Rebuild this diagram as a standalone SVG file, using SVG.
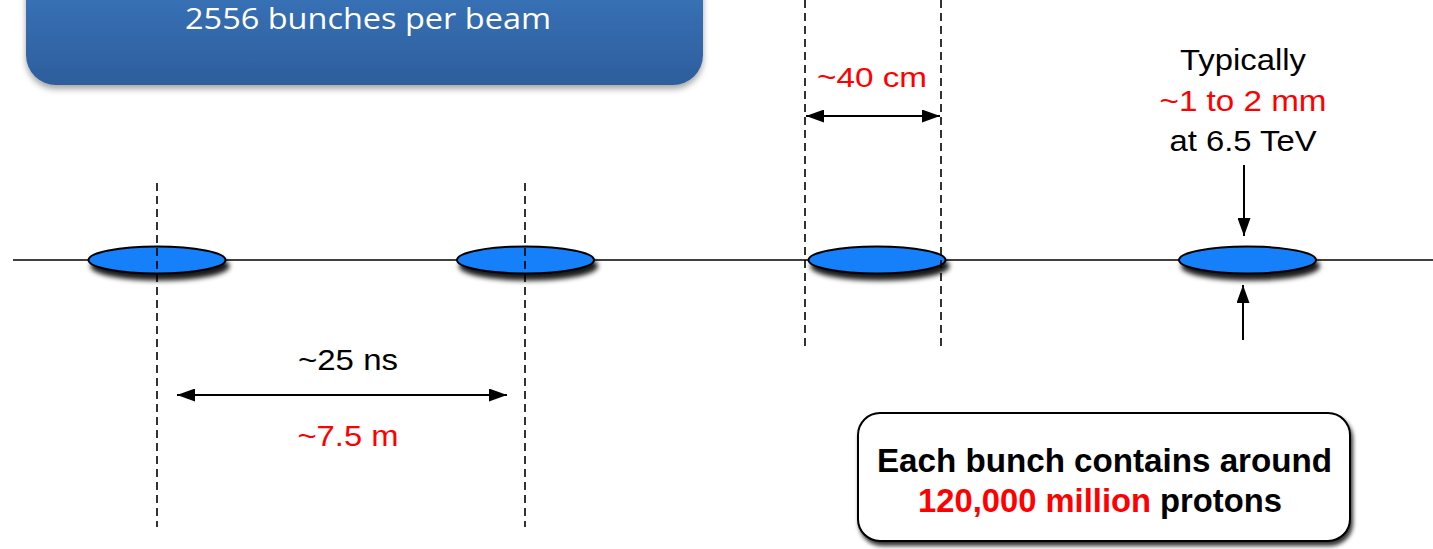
<svg xmlns="http://www.w3.org/2000/svg" width="1433" height="549" viewBox="0 0 1433 549">
<defs>
<linearGradient id="blueGrad" x1="0" y1="0" x2="0" y2="1">
<stop offset="0" stop-color="#3C78C0"/>
<stop offset="1" stop-color="#2D5E9C"/>
</linearGradient>
<filter id="boxShadow" x="-10%" y="-20%" width="120%" height="150%">
<feDropShadow dx="0" dy="4" stdDeviation="3" flood-color="#000" flood-opacity="0.35"/>
</filter>
<filter id="bunchShadow" x="-20%" y="-50%" width="140%" height="220%">
<feDropShadow dx="3" dy="6" stdDeviation="2.5" flood-color="#000" flood-opacity="0.9"/>
</filter>
<filter id="noteShadow" x="-10%" y="-10%" width="120%" height="130%">
<feDropShadow dx="2" dy="4" stdDeviation="2" flood-color="#000" flood-opacity="0.8"/>
</filter>
<marker id="arrowEnd" viewBox="0 0 18 13" refX="18" refY="6.5" markerWidth="18" markerHeight="13" markerUnits="userSpaceOnUse" orient="auto">
<path d="M0,0 L18,6.5 L0,13 Z" fill="#000"/>
</marker>
<marker id="arrowStart" viewBox="0 0 18 13" refX="0" refY="6.5" markerWidth="18" markerHeight="13" markerUnits="userSpaceOnUse" orient="auto">
<path d="M18,0 L0,6.5 L18,13 Z" fill="#000"/>
</marker>
</defs>
<style>
.txt{font-family:"Liberation Sans",Arial,Helvetica,sans-serif;}
.blk{fill:#000;}
.red{fill:#FF0000;}
.dash{stroke:#000;stroke-width:1.6;stroke-dasharray:8,5;fill:none;}
.arr{stroke:#000;stroke-width:2;fill:none;}
.bunch{fill:#1580FA;stroke:#000;stroke-width:2;}
</style>
<rect width="1433" height="549" fill="#fff"/>

<g id="title-box">
<rect x="26" y="-40" width="677" height="125" rx="30" ry="30" fill="url(#blueGrad)" filter="url(#boxShadow)"/>
<text x="368" y="29" text-anchor="middle" font-family="'Open Sans','Noto Sans',sans-serif" font-size="29" fill="#fff" textLength="366" lengthAdjust="spacingAndGlyphs">2556 bunches per beam</text>
</g>

<g id="beam-line">
<line x1="13" y1="260" x2="1433" y2="260" stroke="#000" stroke-width="1.6"/>
</g>

<g id="bunch1"><ellipse cx="157" cy="260" rx="68.5" ry="13.5" class="bunch" filter="url(#bunchShadow)"/></g>
<g id="bunch2"><ellipse cx="525.5" cy="260" rx="68.5" ry="13.5" class="bunch" filter="url(#bunchShadow)"/></g>
<g id="bunch3"><ellipse cx="877" cy="260" rx="68.5" ry="13.5" class="bunch" filter="url(#bunchShadow)"/></g>
<g id="bunch4"><ellipse cx="1247.5" cy="260" rx="68.5" ry="13.5" class="bunch" filter="url(#bunchShadow)"/></g>

<g id="connectors">
<line x1="157" y1="183" x2="157" y2="527" class="dash"/>
<line x1="525" y1="183" x2="525" y2="527" class="dash"/>
<line x1="805" y1="0" x2="805" y2="350" class="dash"/>
<line x1="941" y1="0" x2="941" y2="350" class="dash"/>
<line x1="806" y1="116" x2="940" y2="116" class="arr" marker-start="url(#arrowStart)" marker-end="url(#arrowEnd)"/>
<line x1="177" y1="395" x2="507" y2="395" class="arr" marker-start="url(#arrowStart)" marker-end="url(#arrowEnd)"/>
<line x1="1244" y1="165" x2="1244" y2="236" class="arr" marker-end="url(#arrowEnd)"/>
<line x1="1243" y1="340" x2="1243" y2="285" class="arr" marker-end="url(#arrowEnd)"/>
</g>

<g id="label-40cm">
<text x="872" y="87" text-anchor="middle" class="txt red" font-size="28" textLength="110" lengthAdjust="spacingAndGlyphs">~40 cm</text>
</g>

<g id="label-size">
<text x="1243" y="70" text-anchor="middle" class="txt blk" font-size="29" textLength="126" lengthAdjust="spacingAndGlyphs">Typically</text>
<text x="1243" y="111" text-anchor="middle" class="txt red" font-size="29" textLength="167" lengthAdjust="spacingAndGlyphs">~1 to 2 mm</text>
<text x="1243" y="151" text-anchor="middle" class="txt blk" font-size="29" textLength="147" lengthAdjust="spacingAndGlyphs">at 6.5 TeV</text>
</g>

<g id="label-spacing">
<text x="348" y="370" text-anchor="middle" class="txt blk" font-size="29" textLength="100" lengthAdjust="spacingAndGlyphs">~25 ns</text>
<text x="348" y="446" text-anchor="middle" class="txt red" font-size="29" textLength="101" lengthAdjust="spacingAndGlyphs">~7.5 m</text>
</g>

<g id="note-box">
<rect x="858" y="413" width="492" height="128" rx="22" ry="22" fill="#fff" stroke="#000" stroke-width="2" filter="url(#noteShadow)"/>
<text x="1104.5" y="472" text-anchor="middle" class="txt blk" font-size="34" font-weight="bold" textLength="455" lengthAdjust="spacingAndGlyphs">Each bunch contains around</text>
<text x="1100" y="512" text-anchor="middle" class="txt" font-size="34" font-weight="bold" textLength="364" lengthAdjust="spacingAndGlyphs"><tspan class="red">120,000 million</tspan><tspan class="blk"> protons</tspan></text>
</g>
</svg>
